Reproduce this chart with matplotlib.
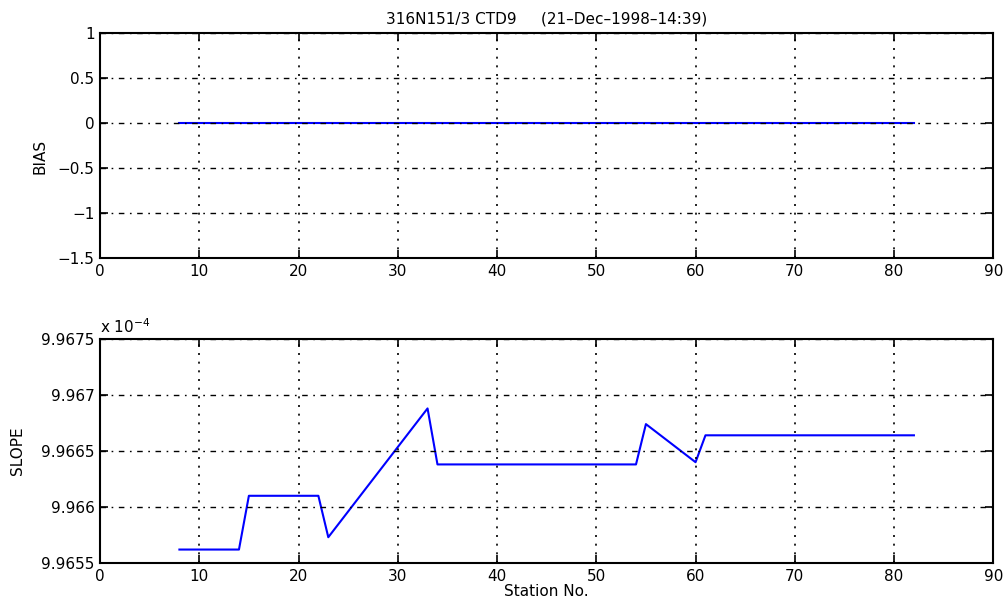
import matplotlib
matplotlib.use("Agg")
import matplotlib.pyplot as plt

# Data
bias_station = [8, 82]
bias_values = [0.0, 0.0]

slope_station = [8, 14, 15, 22, 23, 33, 34, 54, 55, 60, 61, 82]
slope_values = [9.96562, 9.96562, 9.96610, 9.96610, 9.96573, 9.96688,
                9.96638, 9.96638, 9.96674, 9.96640, 9.96664, 9.96664]  # x 10^-4

x_ticks = [0, 10, 20, 30, 40, 50, 60, 70, 80, 90]
bias_ticks = [-1.5, -1, -0.5, 0, 0.5, 1]
slope_ticks = [9.9655, 9.966, 9.9665, 9.967, 9.9675]
slope_tick_labels = ["9.9655", "9.966", "9.9665", "9.967", "9.9675"]
bias_tick_labels = ["\u22121.5", "\u22121", "\u22120.5", "0", "0.5", "1"]

title = "316N151/3 CTD9     (21\u2013Dec\u20131998\u201314:39)"

plt.rcParams['font.family'] = ['DejaVu Sans']
plt.rcParams['font.size'] = 11

fig = plt.figure(figsize=(10.06, 6.02), dpi=100)
ax1 = fig.add_axes([0.0994, 0.5714, 0.888, 0.3738])
ax2 = fig.add_axes([0.0994, 0.0648, 0.888, 0.3721])

def style(ax):
    ax.set_xlim(0, 90)
    ax.set_xticks(x_ticks)
    ax.tick_params(direction='in', length=6, width=1.2, top=True, right=True,
                   labelsize=11, pad=4)
    for s in ax.spines.values():
        s.set_linewidth(1.5)
    ax.xaxis.grid(True, color='black', linestyle=(0, (1.2, 4)), linewidth=1.2)
    ax.yaxis.grid(True, color='black', linestyle=(0, (4, 4, 1.2, 4)), linewidth=1.0)
    ax.set_axisbelow(False)

ax1.plot(bias_station, bias_values, color='blue', linewidth=1.5)
style(ax1)
ax1.set_ylim(-1.5, 1)
ax1.set_yticks(bias_ticks)
ax1.set_yticklabels(bias_tick_labels)
ax1.set_xticklabels([str(t) for t in x_ticks])
ax1.set_ylabel("BIAS")
ax1.yaxis.set_label_coords(-0.059, 0.45)
ax1.set_title(title, fontsize=11, pad=7)

ax2.plot(slope_station, slope_values, color='blue', linewidth=1.5)
style(ax2)
ax2.set_ylim(9.9655, 9.9675)
ax2.set_yticks(slope_ticks)
ax2.set_yticklabels(slope_tick_labels)
ax2.set_xticklabels([str(t) for t in x_ticks])
ax2.set_ylabel("SLOPE")
ax2.yaxis.set_label_coords(-0.084, 0.5)
ax2.set_xlabel("Station No.", labelpad=0)
ax2.text(0.0, 1.015, "x 10$^{\u22124}$", transform=ax2.transAxes, fontsize=11,
         ha='left', va='bottom')

fig.savefig("out.png", dpi=100)
